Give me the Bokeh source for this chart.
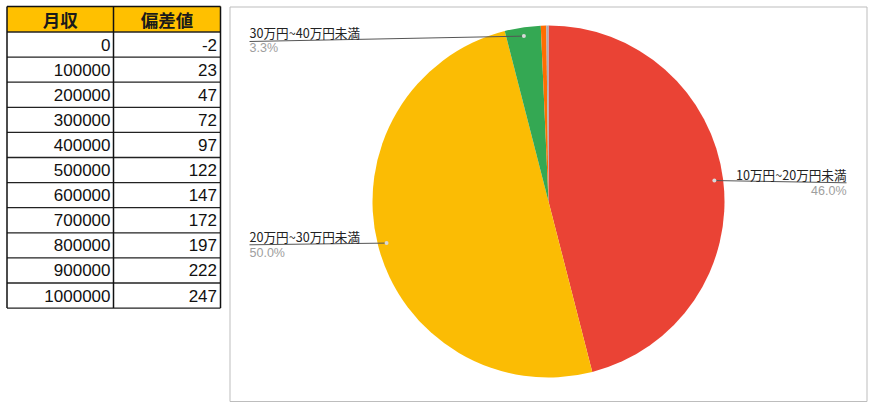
import math
from bokeh.plotting import figure
from bokeh.models import Range1d, ColumnDataSource
from bokeh.core.properties import value
from bokeh.embed import file_html
from bokeh.resources import INLINE

# ---------------- data ----------------
table_headers = ["月収", "偏差値"]
incomes = [0, 100000, 200000, 300000, 400000, 500000, 600000, 700000, 800000, 900000, 1000000]
deviations = [-2, 23, 47, 72, 97, 122, 147, 172, 197, 222, 247]

pie_categories = ["10万円~20万円未満", "20万円~30万円未満", "30万円~40万円未満", "40万円~50万円未満", "50万円以上"]
pie_values = [46.0, 50.0, 3.3, 0.5, 0.2]
pie_colors = ["#EA4335", "#FBBC04", "#34A853", "#FF6D01", "#A7ADB8"]

W, H = 870, 406
def fx(X):
    return X
def fy(Y):
    return H - Y

p = figure(width=W, height=H, output_backend="svg", toolbar_location=None,
           x_range=Range1d(0, W), y_range=Range1d(0, H),
           x_axis_type=None, y_axis_type=None, min_border=0)
p.outline_line_color = None
p.grid.visible = False
p.background_fill_color = "white"

# ---------------- table ----------------
t_left, t_mid, t_right = fx(6.5), fx(113), fx(220)
t_top = fy(6)
header_bottom = fy(31.5)
row_h = 25.1
n = len(incomes)
row_lines = [header_bottom - row_h * i for i in range(n + 1)]
t_bottom = row_lines[-1]

p.quad(left=[t_left], right=[t_right], top=[t_top], bottom=[header_bottom],
       fill_color="#FFC000", line_color=None)

p.segment(x0=[t_left] * (n + 1), x1=[t_right] * (n + 1), y0=row_lines, y1=row_lines,
          line_color="#222222", line_width=1.3)
p.segment(x0=[t_left, t_mid, t_right], x1=[t_left, t_mid, t_right],
          y0=[t_top] * 3, y1=[t_bottom] * 3, line_color="#111111", line_width=1.5)
p.segment(x0=[t_left], x1=[t_right], y0=[t_top], y1=[t_top], line_color="#111111", line_width=1.5)

p.text(x=[(t_left + t_mid) / 2, (t_mid + t_right) / 2], y=[(t_top + header_bottom) / 2] * 2,
       text=table_headers, text_align="center", text_baseline="middle",
       text_font=value("Noto Sans CJK JP"), text_font_style="bold",
       text_font_size="17.5px", text_color="#1a1a1a")

centers = [header_bottom - row_h * (i + 0.5) for i in range(n)]
p.text(x=[t_mid - 3] * n, y=centers, text=[str(v) for v in incomes],
       text_align="right", text_baseline="middle", text_font=value("Liberation Sans"),
       text_font_size="17px", text_color="#111111")
p.text(x=[t_right - 3.5] * n, y=centers, text=[str(v) for v in deviations],
       text_align="right", text_baseline="middle", text_font=value("Liberation Sans"),
       text_font_size="17px", text_color="#111111")

# ---------------- chart box ----------------
b_left, b_right, b_top, b_bottom = fx(229.5), fx(866.5), fy(6.5), fy(401)
p.quad(left=[b_left], right=[b_right], top=[b_top], bottom=[b_bottom],
       fill_color=None, line_color="#BDBDBD", line_width=1)

# ---------------- pie ----------------
cx, cy, r = fx(548), fy(201), 176
total = sum(pie_values)
starts, ends, mids = [], [], []
cum = 0.0
for v in pie_values:
    a0 = cum / total
    cum += v
    a1 = cum / total
    starts.append(math.pi / 2 - 2 * math.pi * a1)
    ends.append(math.pi / 2 - 2 * math.pi * a0)
    mids.append(math.pi / 2 - 2 * math.pi * (a0 + a1) / 2)

src = ColumnDataSource(dict(start=starts, end=ends, color=pie_colors))
p.wedge(x=cx, y=cy, radius=r, start_angle="start", end_angle="end",
        fill_color="color", line_color=None, source=src)

# labels for the three biggest slices
label_idx = [0, 1, 2]
anchors = [(fx(846), fy(182.3)), (fx(249), fy(244.3)), (fx(249), fy(41))]
label_pos = [(fx(846), fy(174.3), "right"), (fx(249), fy(236.1), "left"), (fx(249), fy(32.4), "left")]
pct_pos = [(fx(846), fy(190), "right"), (fx(249), fy(252.3), "left"), (fx(249), fy(47.7), "left")]

dots_x, dots_y = [], []
for k, i in enumerate(label_idx):
    dxp = cx + 0.95 * r * math.cos(mids[i])
    dyp = cy + 0.95 * r * math.sin(mids[i])
    dots_x.append(dxp)
    dots_y.append(dyp)
    ax, ay = anchors[k]
    p.segment(x0=[dxp], y0=[dyp], x1=[ax], y1=[ay], line_color="#555555", line_width=1)
    lx, ly, al = label_pos[k]
    p.text(x=[lx], y=[ly], text=[pie_categories[i]], text_align=al, text_baseline="middle",
           text_font=value("Noto Sans CJK JP"), text_font_size="12.6px", text_color="#222222")
    px_, py_, al2 = pct_pos[k]
    p.text(x=[px_], y=[py_], text=["%.1f%%" % (pie_values[i] / total * 100)], text_align=al2,
           text_baseline="middle", text_font=value("Liberation Sans"),
           text_font_size="12.5px", text_color="#9E9E9E")

p.scatter(x=dots_x, y=dots_y, size=4, fill_color="#D9D9D9", line_color=None)

open("out.html", "w").write(file_html(p, INLINE))
